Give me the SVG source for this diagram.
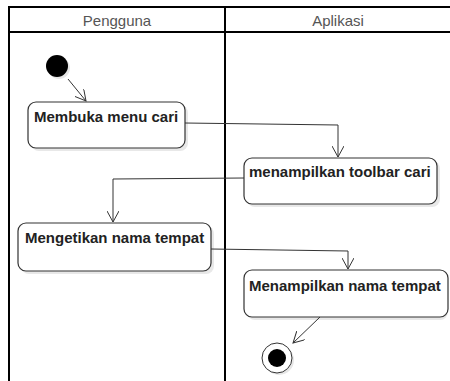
<svg xmlns="http://www.w3.org/2000/svg" width="450" height="381" viewBox="0 0 450 381">
<style>
.lane{fill:none;stroke:#000;stroke-width:2}
.hdr{font-family:"Liberation Sans",Arial,sans-serif;font-size:15px;fill:#555;text-anchor:middle}
.box{fill:#fff;stroke:#333;stroke-width:1.2}
.shadow{fill:#e8e8e8}
.lbl{font-family:"Liberation Sans",Arial,sans-serif;font-size:15px;font-weight:bold;fill:#222}
.edge{fill:none;stroke:#333;stroke-width:1}
</style>
<defs>
<marker id="arr" viewBox="0 0 12 12" refX="11" refY="6" markerWidth="12" markerHeight="12" markerUnits="userSpaceOnUse" orient="auto">
<path d="M0,0 L11,6 L0,12" fill="none" stroke="#333" stroke-width="1"/>
</marker>
</defs>
<rect width="450" height="381" fill="#fff"/>
<g id="swimlanes">
<path class="lane" d="M450,7 H9 V381 M9,32 H450 M225,7 V381"/>
<text class="hdr" x="117" y="26">Pengguna</text>
<text class="hdr" x="338" y="26">Aplikasi</text>
</g>
<g id="start">
<circle cx="59" cy="68" r="11" fill="#e6e6e6"/>
<circle cx="57" cy="66" r="11" fill="#000"/>
</g>
<g id="n1">
<rect class="shadow" x="31" y="105" width="157" height="46" rx="8"/>
<rect class="box" x="28" y="102" width="157" height="46" rx="8"/>
<text class="lbl" x="34" y="122">Membuka menu cari</text>
</g>
<g id="n2">
<rect class="shadow" x="247" y="161" width="193" height="46" rx="8"/>
<rect class="box" x="244" y="158" width="193" height="46" rx="8"/>
<text class="lbl" x="249" y="177">menampilkan toolbar cari</text>
</g>
<g id="n3">
<rect class="shadow" x="21" y="226" width="193" height="48" rx="8"/>
<rect class="box" x="18" y="223" width="193" height="48" rx="8"/>
<text class="lbl" x="25" y="243">Mengetikan nama tempat</text>
</g>
<g id="n4">
<rect class="shadow" x="247" y="273" width="201" height="47" rx="8"/>
<rect class="box" x="244" y="270" width="204" height="47" rx="8"/>
<text class="lbl" x="249" y="291">Menampilkan nama tempat</text>
</g>
<g id="end">
<circle cx="279" cy="360" r="15" fill="#e6e6e6"/>
<circle cx="277" cy="358" r="15" fill="#fff" stroke="#333" stroke-width="1"/>
<circle cx="277" cy="358" r="9" fill="#000"/>
</g>
<g id="connectors">
<path class="edge" d="M68,79 L86,101" marker-end="url(#arr)"/>
<path class="edge" d="M185,123 L338,125 V157" marker-end="url(#arr)"/>
<path class="edge" d="M244,178 L113,179 V222" marker-end="url(#arr)"/>
<path class="edge" d="M211,249 L348,251 V269" marker-end="url(#arr)"/>
<path class="edge" d="M320,317 L293,343" marker-end="url(#arr)"/>
</g>
</svg>
